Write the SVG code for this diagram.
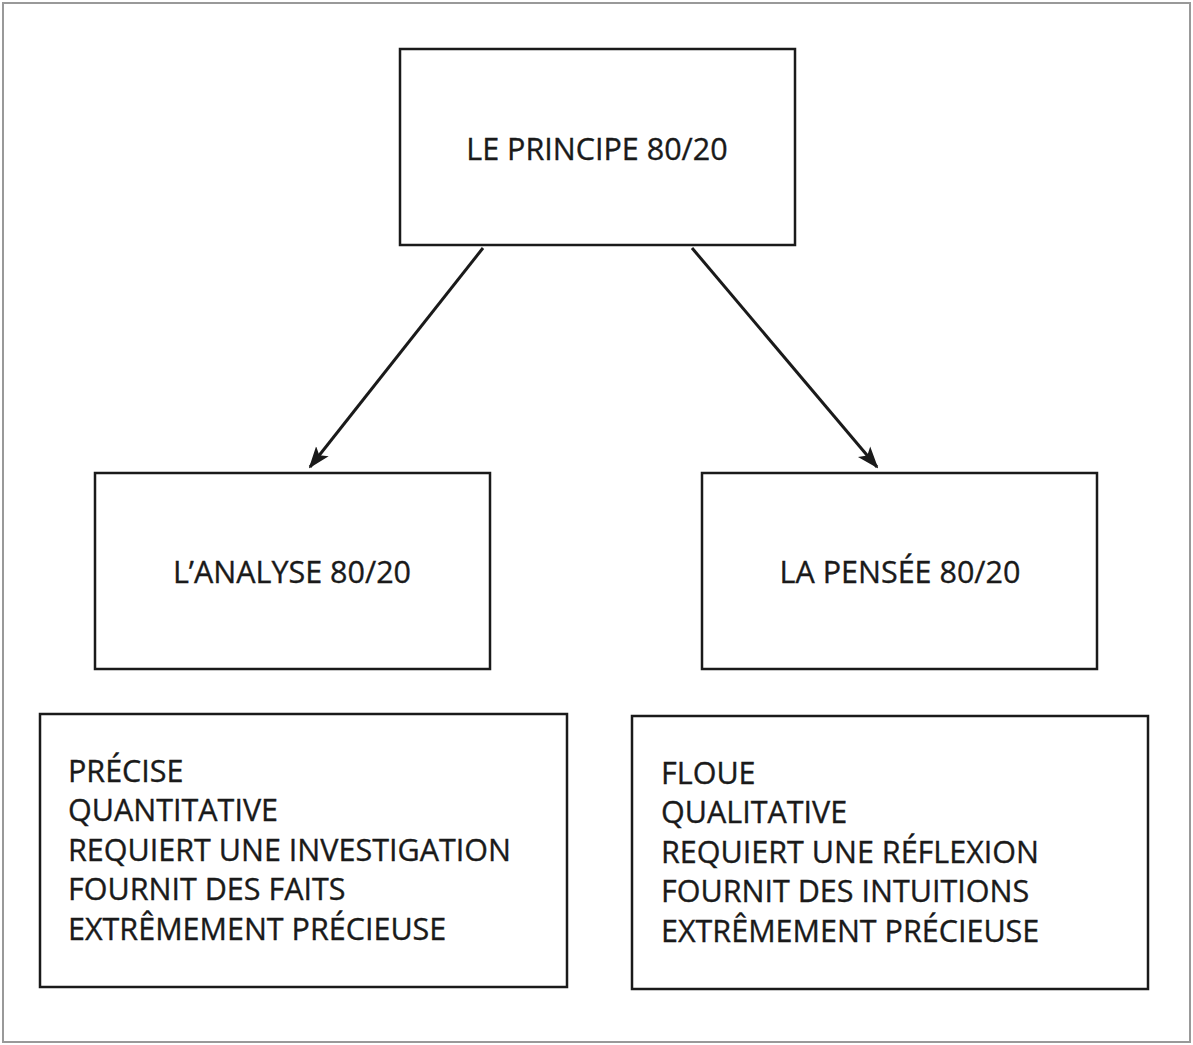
<svg xmlns="http://www.w3.org/2000/svg" width="1193" height="1045" viewBox="0 0 1193 1045">
<style>
.box{fill:#fff;stroke:#1a1a1a;stroke-width:2.5}
.t{font-family:"Open Sans","Noto Sans","Liberation Sans",sans-serif;font-size:30.5px;fill:#1a1a1a;stroke:#1a1a1a;stroke-width:0.35}
.c{text-anchor:middle}
</style>
<defs>
<marker id="ah" markerWidth="22" markerHeight="18" refX="20" refY="9" orient="auto" markerUnits="userSpaceOnUse" viewBox="0 0 22 18">
<path d="M0,1 L22,9 L0,17 L5,9 Z" fill="#1a1a1a"/>
</marker>
</defs>
<rect x="0" y="0" width="1193" height="1045" fill="#fff"/>
<rect x="3" y="3" width="1187" height="1039" fill="none" stroke="#999" stroke-width="2"/>
<g id="connectors">
<line x1="483" y1="248" x2="310" y2="467" stroke="#1a1a1a" stroke-width="3" marker-end="url(#ah)"/>
<line x1="692" y1="248" x2="877" y2="467" stroke="#1a1a1a" stroke-width="3" marker-end="url(#ah)"/>
</g>
<g id="principe">
<rect class="box" x="400" y="49" width="395" height="196"/>
<text class="t c" x="597" y="160">LE PRINCIPE 80/20</text>
</g>
<g id="analyse">
<rect class="box" x="95" y="473" width="395" height="196"/>
<text class="t c" x="292" y="583">L’ANALYSE 80/20</text>
</g>
<g id="pensee">
<rect class="box" x="702" y="473" width="395" height="196"/>
<text class="t c" x="900" y="583">LA PENSÉE 80/20</text>
</g>
<g id="analyse-traits">
<rect class="box" x="40" y="714" width="527" height="273"/>
<text class="t" x="68" y="782">PRÉCISE</text>
<text class="t" x="68" y="821">QUANTITATIVE</text>
<text class="t" x="68" y="861">REQUIERT UNE INVESTIGATION</text>
<text class="t" x="68" y="900">FOURNIT DES FAITS</text>
<text class="t" x="68" y="940">EXTRÊMEMENT PRÉCIEUSE</text>
</g>
<g id="pensee-traits">
<rect class="box" x="632" y="716" width="516" height="273"/>
<text class="t" x="661" y="784">FLOUE</text>
<text class="t" x="661" y="823">QUALITATIVE</text>
<text class="t" x="661" y="863">REQUIERT UNE RÉFLEXION</text>
<text class="t" x="661" y="902">FOURNIT DES INTUITIONS</text>
<text class="t" x="661" y="942">EXTRÊMEMENT PRÉCIEUSE</text>
</g>
</svg>
